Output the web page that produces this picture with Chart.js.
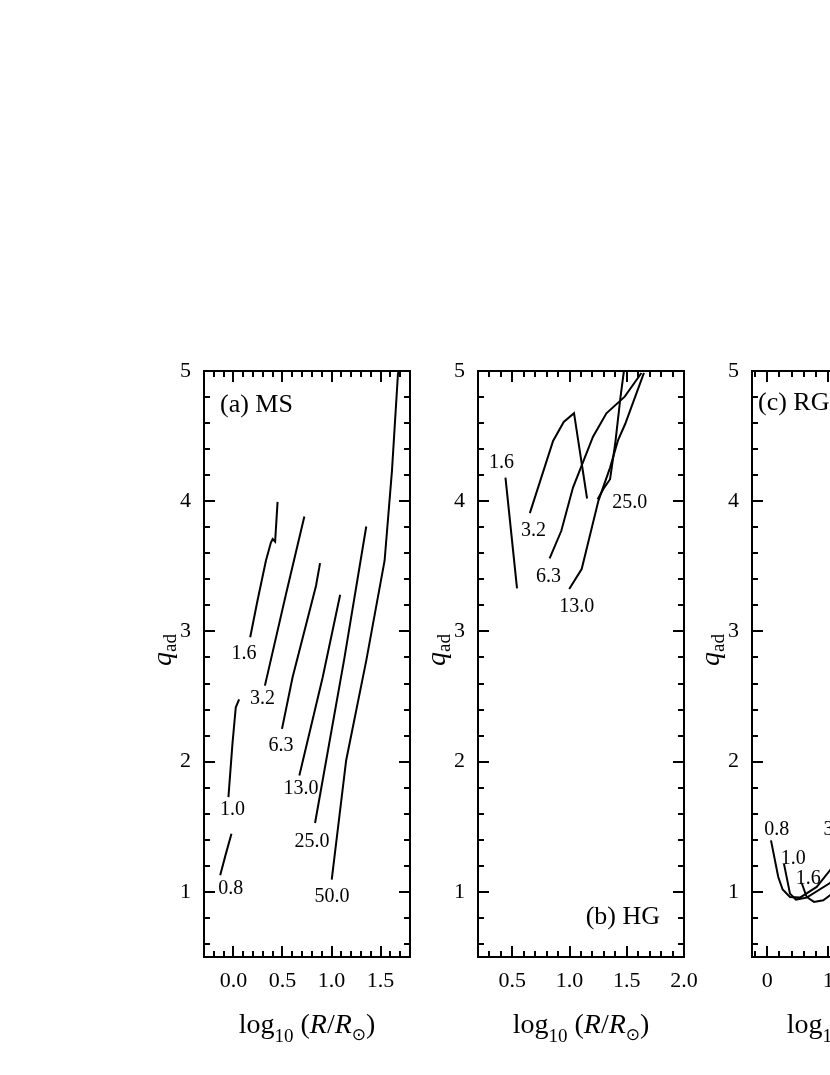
<!DOCTYPE html>
<html>
<head>
<meta charset="utf-8">
<script src="https://cdn.jsdelivr.net/npm/chart.js@4.4.1/dist/chart.umd.min.js"></script>
<style>
  html, body { margin: 0; padding: 0; background: #fff; overflow: hidden; width: 830px; height: 1075px; }
  canvas { position: absolute; left: 0; top: 0; }
</style>
</head>
<body>
<canvas id="msChart" width="1000" height="1075"></canvas>
<canvas id="hgChart" width="1000" height="1075"></canvas>
<canvas id="rgChart" width="1000" height="1075"></canvas>
<script>
// y axis shared by all three panels
const qTicks = [1, 2, 3, 4, 5];

// (a) MS : one track per mass, log10 R and q_ad
const msMasses = ['0.8', '1.0', '1.6', '3.2', '6.3', '13.0', '25.0', '50.0'];
const msLogR = [
  [-0.135, -0.078, -0.02],
  [-0.051, -0.01, 0.024, 0.058],
  [0.171, 0.245, 0.331, 0.382, 0.40, 0.425, 0.45],
  [0.321, 0.536, 0.723],
  [0.495, 0.603, 0.842, 0.883],
  [0.672, 0.91, 1.088],
  [0.832, 1.13, 1.354],
  [1.002, 1.149, 1.354, 1.541, 1.616, 1.677, 1.683]
];
const msQad = [
  [1.127, 1.29, 1.447],
  [1.728, 2.137, 2.418, 2.478],
  [2.955, 3.236, 3.543, 3.683, 3.71, 3.69, 3.995],
  [2.584, 3.288, 3.883],
  [2.252, 2.648, 3.351, 3.525],
  [1.894, 2.648, 3.282],
  [1.529, 2.789, 3.806],
  [1.094, 2.009, 2.776, 3.543, 4.233, 4.975, 5.0]
];
const msLabelX = [-0.027, -0.01, 0.109, 0.297, 0.485, 0.689, 0.80, 1.006];
const msLabelY = [1.025, 1.633, 2.827, 2.482, 2.124, 1.792, 1.383, 0.961];
const msTicks = [0.0, 0.5, 1.0, 1.5];

// (b) HG
const hgMasses = ['1.6', '3.2', '6.3', '13.0', '25.0'];
const hgLogR = [
  [0.44, 0.541],
  [0.653, 0.856, 0.949, 1.039, 1.153],
  [0.826, 0.928, 1.03, 1.205, 1.322, 1.482, 1.628],
  [0.997, 1.106, 1.252, 1.354, 1.424, 1.485, 1.65],
  [1.245, 1.30, 1.354, 1.40, 1.445, 1.475]
];
const hgQad = [
  [4.182, 3.331],
  [3.909, 4.463, 4.609, 4.676, 4.021],
  [3.561, 3.773, 4.105, 4.496, 4.675, 4.803, 4.985],
  [3.326, 3.479, 4.003, 4.258, 4.47, 4.591, 4.985],
  [4.016, 4.10, 4.169, 4.45, 4.80, 5.0]
];
const hgLabelX = [0.405, 0.684, 0.815, 1.063, 1.526];
const hgLabelY = [4.297, 3.773, 3.42, 3.19, 3.99];
const hgTicks = [0.5, 1.0, 1.5, 2.0];

// (c) RG
const rgMasses = ['0.8', '1.0', '1.6', '3.2'];
const rgLogR = [
  [0.061, 0.18, 0.252, 0.372, 0.536, 0.81, 1.028, 1.15],
  [0.274, 0.372, 0.47, 0.646, 1.028, 1.15],
  [0.564, 0.646, 0.766, 0.918, 1.028, 1.15]
];
const rgQad = [
  [1.396, 1.114, 1.018, 0.961, 0.956, 1.038, 1.166, 1.26],
  [1.215, 0.987, 0.941, 0.956, 1.068, 1.13],
  [1.068, 0.961, 0.923, 0.936, 0.974, 1.03]
];
const rgLabelX = [0.154, 0.426, 0.672, 1.126];
const rgLabelY = [1.477, 1.253, 1.10, 1.477];
const rgTicks = [0, 1, 2, 3];

const serif = '"Liberation Serif", "Times New Roman", serif';

function tracks(xs, ys) {
  return xs.map((row, i) => ({
    data: row.map((v, j) => ({ x: v, y: ys[i][j] })),
    showLine: true,
    borderColor: '#000',
    borderWidth: 2,
    pointRadius: 0,
    tension: 0
  }));
}

function steps(min, max, step) {
  const out = [];
  for (let i = Math.ceil(min / step - 1e-6); i * step <= max + 1e-9; i++) out.push(i * step);
  return out;
}

function drawRun(ctx, parts, cx, baseY) {
  let w = 0;
  parts.forEach(p => { ctx.font = p[1]; w += ctx.measureText(p[0]).width; });
  let x = cx - w / 2;
  parts.forEach(p => {
    ctx.font = p[1];
    ctx.fillText(p[0], x, baseY + p[2]);
    x += ctx.measureText(p[0]).width;
  });
}

// frame, inward ticks, axis titles and labels
const frame = {
  id: 'frame',
  afterDatasetsDraw(chart, args, o) {
    const { ctx, chartArea: a, scales: { x, y } } = chart;
    const near = (v, list) => list.some(m => Math.abs(m - v) < 1e-6);
    ctx.save();
    ctx.strokeStyle = '#000';
    ctx.fillStyle = '#000';
    ctx.lineWidth = 2;
    ctx.strokeRect(a.left, a.top, a.right - a.left, a.bottom - a.top);
    ctx.beginPath();
    steps(x.min, x.max, o.xMinor).forEach(v => {
      const len = near(v, o.xMajor) ? 11 : 6;
      const px = Math.round(x.getPixelForValue(v));
      ctx.moveTo(px, a.bottom); ctx.lineTo(px, a.bottom - len);
      ctx.moveTo(px, a.top); ctx.lineTo(px, a.top + len);
    });
    steps(y.min, y.max, 0.2).forEach(v => {
      const len = near(v, qTicks) ? 11 : 6;
      const py = Math.round(y.getPixelForValue(v));
      ctx.moveTo(a.left, py); ctx.lineTo(a.left + len, py);
      ctx.moveTo(a.right, py); ctx.lineTo(a.right - len, py);
    });
    ctx.stroke();

    // mass labels on the tracks
    ctx.font = '20px ' + serif;
    ctx.textAlign = 'center';
    ctx.textBaseline = 'middle';
    o.names.forEach((t, i) => {
      ctx.fillText(t, x.getPixelForValue(o.lx[i]), y.getPixelForValue(o.ly[i]));
    });

    // panel name
    ctx.font = '26px ' + serif;
    ctx.textAlign = o.panelAlign;
    ctx.textBaseline = 'middle';
    const px = o.panelAlign === 'left' ? a.left + o.panelDx : a.right - o.panelDx;
    const py = o.panelDy > 0 ? a.top + o.panelDy : a.bottom + o.panelDy;
    ctx.fillText(o.panel, px, py);

    // x title: log10 (R/R_sun)
    ctx.textAlign = 'left';
    ctx.textBaseline = 'alphabetic';
    drawRun(ctx, [
      ['log', '28px ' + serif, 0],
      ['10', '19px ' + serif, 9],
      [' (', '28px ' + serif, 0],
      ['R', 'italic 28px ' + serif, 0],
      ['/', '28px ' + serif, 0],
      ['R', 'italic 28px ' + serif, 0],
      ['\u2299', '17px "DejaVu Sans"', 7],
      [')', '28px ' + serif, 0]
    ], (a.left + a.right) / 2, 1033);

    // y title: q_ad
    ctx.translate(a.left - 33, 650);
    ctx.rotate(-Math.PI / 2);
    drawRun(ctx, [
      ['q', 'italic 28px ' + serif, 0],
      ['ad', '19px ' + serif, 5]
    ], 0, 0);
    ctx.restore();
  }
};

function makeChart(id, cfg) {
  const left = cfg.left, right = cfg.left + 206;
  return new Chart(document.getElementById(id), {
    type: 'scatter',
    data: { datasets: tracks(cfg.xs, cfg.ys) },
    options: {
      responsive: false,
      animation: false,
      events: [],
      layout: { padding: { left: left - 60, right: 1000 - right, top: 371, bottom: 1075 - 957 - 60 } },
      plugins: {
        legend: { display: false },
        tooltip: { enabled: false },
        frame: {
          xMinor: cfg.xMinor, xMajor: cfg.xTicks,
          names: cfg.names, lx: cfg.lx, ly: cfg.ly,
          panel: cfg.panel, panelAlign: cfg.panelAlign, panelDx: cfg.panelDx, panelDy: cfg.panelDy
        }
      },
      scales: {
        x: {
          type: 'linear', min: cfg.xMin, max: cfg.xMax,
          grid: { display: false, drawTicks: false },
          border: { display: false },
          afterBuildTicks: s => { s.ticks = cfg.xTicks.map(v => ({ value: v })); },
          afterFit: s => { s.height = 60; },
          ticks: {
            autoSkip: false, maxRotation: 0, padding: 11, color: '#000',
            font: { family: serif, size: 22 },
            callback: v => Number(v).toFixed(cfg.xDigits)
          }
        },
        y: {
          type: 'linear', min: 0.5, max: 5,
          grid: { display: false, drawTicks: false },
          border: { display: false },
          afterBuildTicks: s => { s.ticks = qTicks.map(v => ({ value: v })); },
          afterFit: s => { s.width = 60; },
          ticks: {
            autoSkip: false, padding: 13, color: '#000',
            font: { family: serif, size: 22 },
            callback: v => String(v)
          }
        }
      }
    },
    plugins: [frame]
  });
}

makeChart('msChart', {
  left: 204, xMin: -0.3, xMax: 1.8, xTicks: msTicks, xMinor: 0.1, xDigits: 1,
  xs: msLogR, ys: msQad, names: msMasses, lx: msLabelX, ly: msLabelY,
  panel: '(a) MS', panelAlign: 'left', panelDx: 16, panelDy: 34
});
makeChart('hgChart', {
  left: 478, xMin: 0.2, xMax: 2.0, xTicks: hgTicks, xMinor: 0.1, xDigits: 1,
  xs: hgLogR, ys: hgQad, names: hgMasses, lx: hgLabelX, ly: hgLabelY,
  panel: '(b) HG', panelAlign: 'right', panelDx: 24, panelDy: -40
});
makeChart('rgChart', {
  left: 752, xMin: -0.25, xMax: 3.125, xTicks: rgTicks, xMinor: 0.2, xDigits: 0,
  xs: rgLogR, ys: rgQad, names: rgMasses, lx: rgLabelX, ly: rgLabelY,
  panel: '(c) RG', panelAlign: 'left', panelDx: 6, panelDy: 32
});
</script>
</body>
</html>
